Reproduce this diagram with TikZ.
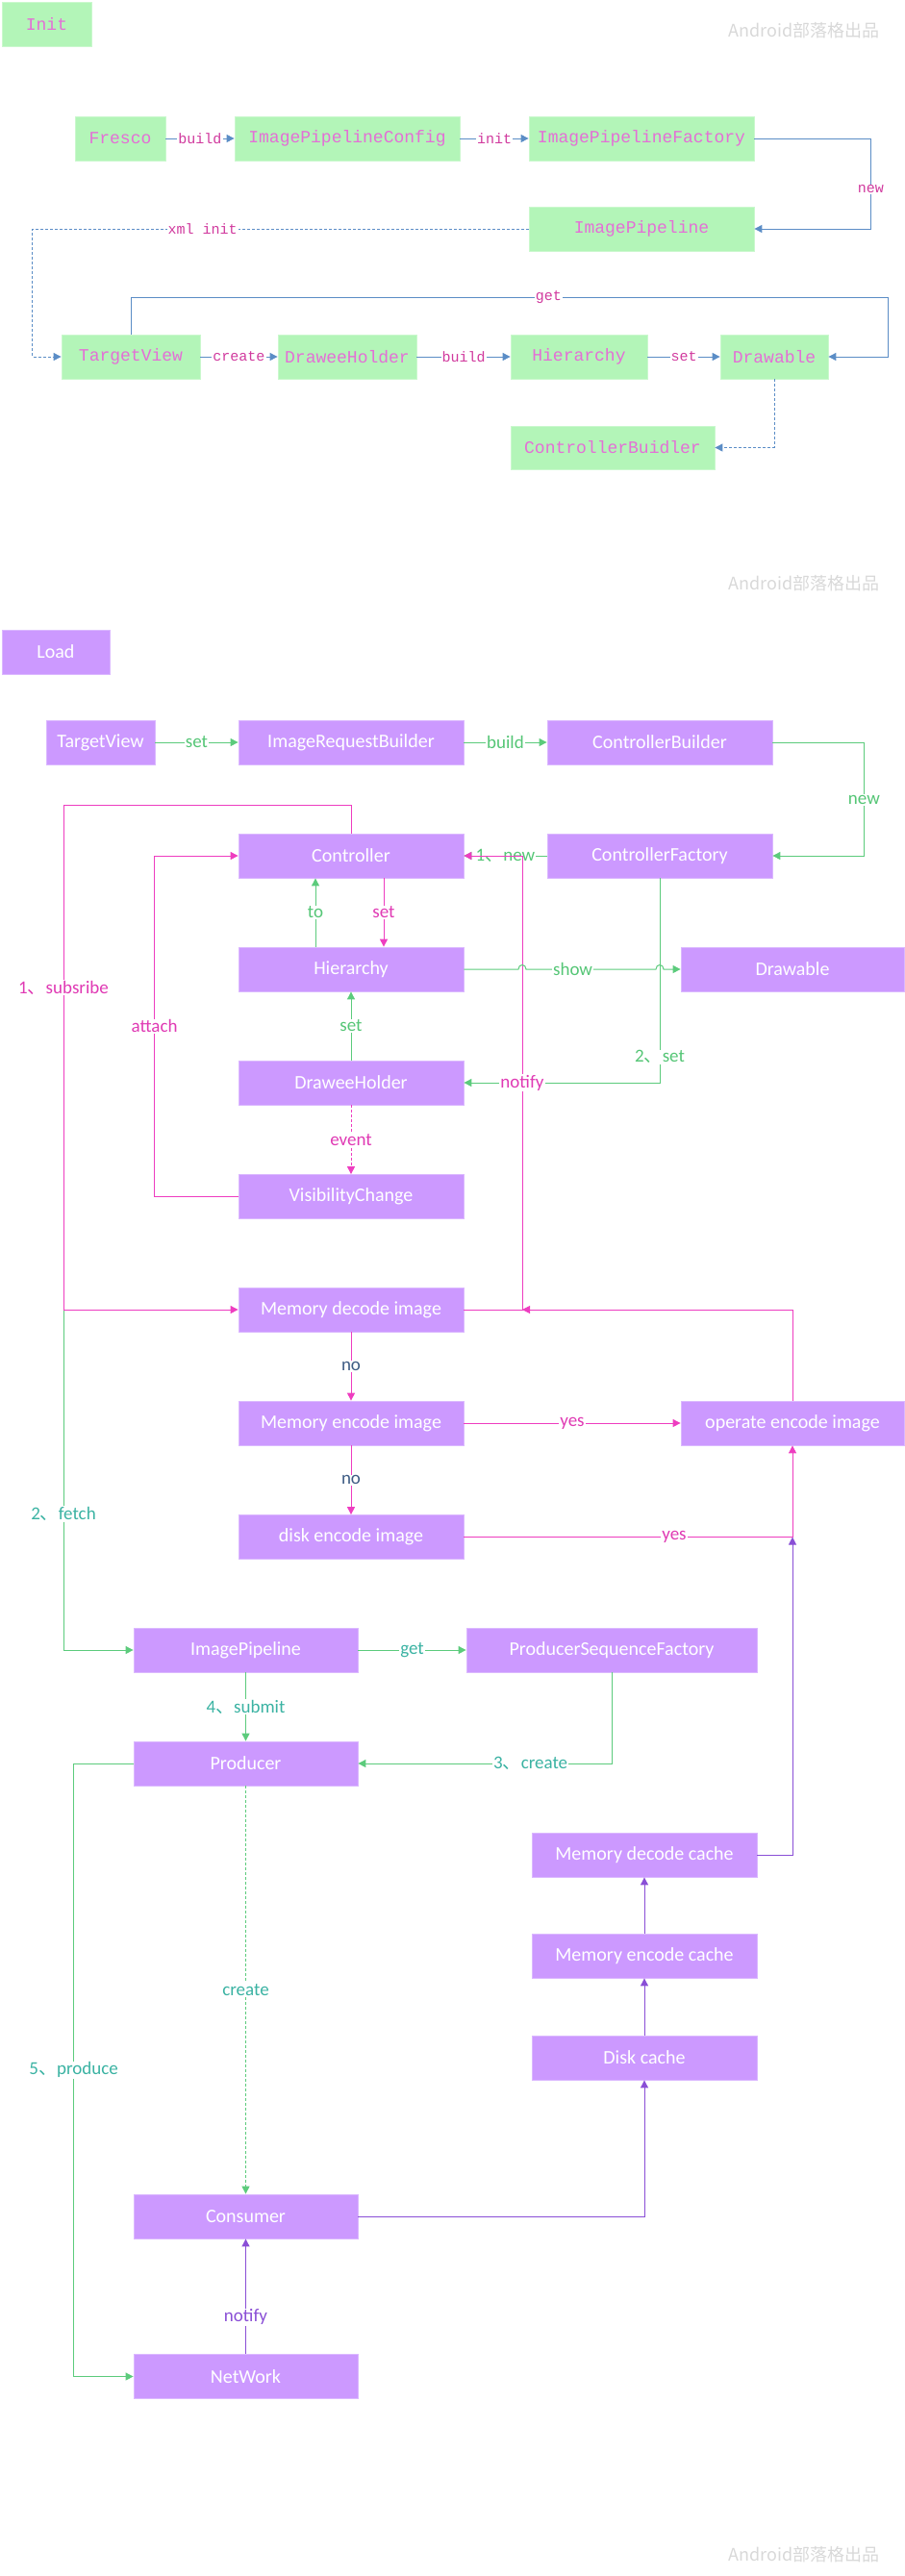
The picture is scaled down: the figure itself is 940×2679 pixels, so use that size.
\documentclass[tikz,border=0pt]{standalone}
\usepackage{fontspec}
\setmainfont{Carlito}
\setmonofont{Liberation Mono}
\newfontfamily\cjk{Noto Sans CJK SC}
\usetikzlibrary{arrows.meta}
\definecolor{initfill}{HTML}{B3F5B8}
\definecolor{loadfill}{HTML}{CC99FF}
\definecolor{inittext}{HTML}{E46FD6}
\definecolor{initlabel}{HTML}{D13A9E}
\definecolor{initline}{HTML}{5B8DC6}
\definecolor{gline}{HTML}{5CCB7C}
\definecolor{glabel}{HTML}{55C676}
\definecolor{tlabel}{HTML}{3BB3A3}
\definecolor{pline}{HTML}{EE3DC0}
\definecolor{plabel}{HTML}{E03AB4}
\definecolor{nolabel}{HTML}{3E5C84}
\definecolor{vline}{HTML}{8A4FD6}
\definecolor{wmgray}{HTML}{D8D8D8}
\newcommand{\dunhao}{{\cjk 、}}
\tikzset{
  initbox/.style={rectangle, fill=initfill, draw=initfill!70!white, line width=0.8pt, text=inittext,
    font=\ttfamily\fontsize{18}{20}\selectfont, minimum height=46pt, inner sep=0pt},
  loadbox/.style={rectangle, fill=loadfill, draw=loadfill!70!white, line width=0.8pt, text=white,
    font=\fontsize{20}{22}\selectfont, minimum height=46pt, inner sep=0pt},
  wmark/.style={text=wmgray, font=\cjk\fontsize{18}{20}\selectfont},
  tip/.style={-{Triangle[length=8pt,width=8pt]}},
  iarrow/.style={draw=initline, line width=1pt, tip},
  garrow/.style={draw=gline, line width=1pt, tip},
  parrow/.style={draw=pline, line width=1pt, tip},
  varrow/.style={draw=vline, line width=1pt, tip},
  ilab/.style={fill=white, text=initlabel, font=\ttfamily\fontsize{15}{16}\selectfont, inner sep=1pt},
  glab/.style={fill=white, text=glabel, font=\fontsize{19}{21}\selectfont, inner sep=1pt},
  tlab/.style={fill=white, text=tlabel, font=\fontsize{19}{21}\selectfont, inner sep=1pt},
  plab/.style={fill=white, text=plabel, font=\fontsize{19}{21}\selectfont, inner sep=1pt},
  nolab/.style={fill=white, text=nolabel, font=\fontsize{19}{21}\selectfont, inner sep=1pt},
  vlab/.style={fill=white, text=vline, font=\fontsize{19}{21}\selectfont, inner sep=1pt},
  shortdash/.style={dash pattern=on 3pt off 2pt}
}
\begin{document}
\begin{tikzpicture}[x=1pt,y=-1pt]
\useasboundingbox (0,0) rectangle (940,2679);
\node[wmark] (wm1) at (836,32) {Android部落格出品};
\node[wmark] (wm2) at (836,607) {Android部落格出品};
\node[wmark] (wm3) at (836,2657) {Android部落格出品};

\node[initbox, minimum width=93pt] (inittag) at (48.5,25) {Init};
\node[initbox, minimum width=94pt] (fresco) at (125,144) {Fresco};
\node[initbox, minimum width=234pt] (config) at (361,144) {ImagePipelineConfig};
\node[initbox, minimum width=234pt] (factory) at (667,144) {ImagePipelineFactory};
\node[initbox, minimum width=234pt] (pipe) at (667,238) {ImagePipeline};
\node[initbox, minimum width=144pt] (tview) at (136,371) {TargetView};
\node[initbox, minimum width=144pt] (holder) at (361,371) {DraweeHolder};
\node[initbox, minimum width=142pt] (hier) at (602,371) {Hierarchy};
\node[initbox, minimum width=112pt] (drawable) at (805,371) {Drawable};
\node[initbox, minimum width=212pt, minimum height=45pt] (cbuilder) at (637,465.5) {ControllerBuidler};
\coordinate (getbend) at (923,309);

\draw[iarrow] (fresco) -- node[ilab]{build} (config);
\draw[iarrow] (config) -- node[ilab]{init} (factory);
\draw[iarrow] (factory.east) -- ++(121,0) |- node[ilab, pos=0.28]{new} (pipe.east);
\draw[iarrow, shortdash] (pipe.west) -- node[ilab, pos=0.657]{xml init} ++(-516,0) |- (tview.west);
\draw[iarrow] (tview.north) |- node[ilab, pos=0.776]{get} (getbend) |- (drawable.east);
\draw[iarrow] (tview) -- node[ilab]{create} (holder);
\draw[iarrow] (holder) -- node[ilab]{build} (hier);
\draw[iarrow] (hier) -- node[ilab]{set} (drawable);
\draw[iarrow, shortdash] (drawable.south) |- (cbuilder.east);

\node[loadbox, minimum width=112pt] (loadtag) at (58,678) {Load};
\node[loadbox, minimum width=113pt] (lview) at (104.5,772) {TargetView};
\node[loadbox, minimum width=234pt] (reqb) at (365,772) {ImageRequestBuilder};
\node[loadbox, minimum width=234pt] (ctrlb) at (686,772) {ControllerBuilder};
\node[loadbox, minimum width=234pt] (ctrl) at (365,890) {Controller};
\node[loadbox, minimum width=234pt] (ctrlf) at (686,890) {ControllerFactory};
\node[loadbox, minimum width=234pt] (lhier) at (365,1008) {Hierarchy};
\node[loadbox, minimum width=232pt] (ldraw) at (824,1008) {Drawable};
\node[loadbox, minimum width=234pt] (lholder) at (365,1126) {DraweeHolder};
\node[loadbox, minimum width=234pt] (vis) at (365,1244.5) {VisibilityChange};
\node[loadbox, minimum width=234pt] (mdec) at (365,1362) {Memory decode image};
\node[loadbox, minimum width=234pt] (menc) at (365,1480) {Memory encode image};
\node[loadbox, minimum width=232pt] (operate) at (824,1480) {operate encode image};
\node[loadbox, minimum width=234pt] (disk) at (365,1598.5) {disk encode image};
\node[loadbox, minimum width=233pt] (lpipe) at (255.5,1716) {ImagePipeline};
\node[loadbox, minimum width=302pt] (psf) at (636,1716) {ProducerSequenceFactory};
\node[loadbox, minimum width=233pt] (producer) at (255.5,1834) {Producer};
\node[loadbox, minimum width=234pt] (mdcache) at (670,1929) {Memory decode cache};
\node[loadbox, minimum width=234pt] (mecache) at (670,2034) {Memory encode cache};
\node[loadbox, minimum width=234pt] (dcache) at (670,2140) {Disk cache};
\node[loadbox, minimum width=233pt] (consumer) at (255.5,2305) {Consumer};
\node[loadbox, minimum width=233pt] (network) at (255.5,2471.5) {NetWork};
\coordinate (subtop) at (66,837);
\coordinate (fetchtop) at (66,1362);
\coordinate (junc) at (543,1362);
\coordinate (yjunc) at (824,1598.5);
\coordinate (hopA) at (543,1008);
\coordinate (hopB) at (686,1008);

\draw[garrow] (lview) -- node[glab]{set} (reqb);
\draw[garrow] (reqb) -- node[glab]{build} (ctrlb);
\draw[garrow] (ctrlb.east) -- ++(95,0) |- node[glab, pos=0.254]{new} (ctrlf.east);
\draw[garrow] (ctrlf.west) -- node[glab]{1\dunhao new} (ctrl.east);
\draw[garrow] ([xshift=-37pt]lhier.north) -- node[glab]{to} ([xshift=-37pt]ctrl.south);
\draw[parrow] ([xshift=34pt]ctrl.south) -- node[plab]{set} ([xshift=34pt]lhier.north);
\draw[garrow] (lholder.north) -- node[glab]{set} (lhier.south);
\draw[parrow, shortdash] (lholder.south) -- node[plab]{event} (vis.north);
\draw[garrow] (ctrlf.south) |- node[glab, pos=0.437]{2\dunhao set} (lholder.east);
\draw[parrow] (vis.west) -- ++(-87,0) |- node[plab, pos=0.25]{attach} (ctrl.west);
\draw[parrow] (mdec.east) -- (junc) |- node[plab, pos=0.25]{notify} (ctrl.east);
\draw[garrow] (lhier.east) -- ([xshift=-4pt]hopA)
  .. controls ([xshift=-4pt,yshift=6pt]hopA) and ([xshift=4pt,yshift=6pt]hopA) .. ([xshift=4pt]hopA)
  -- node[glab, pos=0.36]{show} ([xshift=-4pt]hopB)
  .. controls ([xshift=-4pt,yshift=6pt]hopB) and ([xshift=4pt,yshift=6pt]hopB) .. ([xshift=4pt]hopB)
  -- (ldraw.west);
\draw[garrow] (fetchtop) |- node[tlab, pos=0.30]{2\dunhao fetch} (lpipe.west);
\draw[parrow] (ctrl.north) |- (subtop) |- node[plab, pos=0.181]{1\dunhao subsribe} (mdec.west);
\draw[parrow] (operate.north) |- (junc);
\draw[parrow] (mdec.south) -- node[nolab]{no} (menc.north);
\draw[parrow] (menc.south) -- node[nolab]{no} (disk.north);
\draw[parrow] (menc.east) -- node[plab]{yes} (operate.west);
\draw[draw=pline, line width=1pt] (disk.east) -- node[plab, pos=0.64]{yes} (yjunc);
\draw[parrow] (yjunc) -- (operate.south);
\draw[varrow] (mdcache.east) -| (yjunc);
\draw[varrow] (mecache.north) -- (mdcache.south);
\draw[varrow] (dcache.north) -- (mecache.south);
\draw[varrow] (consumer.east) -| (dcache.south);
\draw[varrow] (network.north) -- node[vlab, pos=0.32]{notify} (consumer.south);
\draw[garrow] (lpipe.east) -- node[tlab]{get} (psf.west);
\draw[garrow] (lpipe.south) -- node[tlab]{4\dunhao submit} (producer.north);
\draw[garrow] (psf.south) |- node[tlab, pos=0.66]{3\dunhao create} (producer.east);
\draw[garrow] (producer.west) -- ++(-62,0) |- node[tlab, pos=0.25]{5\dunhao produce} (network.west);
\draw[garrow, shortdash] (producer.south) -- node[tlab]{create} (consumer.north);
\end{tikzpicture}
\end{document}
